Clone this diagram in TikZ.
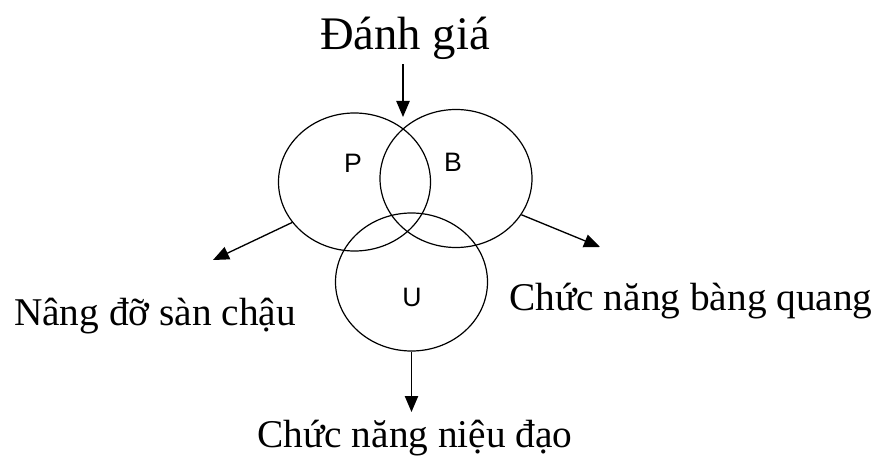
\documentclass[tikz,border=0pt]{standalone}
\usepackage{fontspec}
\setmainfont{Liberation Serif}
\newfontfamily\lettersans{Liberation Sans}
\usetikzlibrary{arrows.meta,shapes.geometric}

\begin{document}
\begin{tikzpicture}[x=0.75pt, y=-0.75pt,
  ring/.style={draw, ellipse, line width=0.9pt, minimum width=114pt, minimum height=103.5pt, inner sep=0pt},
  arr/.style={line width=1pt, -{Triangle[length=12pt, width=10pt]}},
  lbl/.style={font=\fontsize{29.5}{31}\selectfont, inner sep=0pt},
  letter/.style={font=\lettersans\fontsize{20}{22}\selectfont, inner sep=0pt}]
  \useasboundingbox (0,0) rectangle (874,456);
  % the three rings
  \node[ring] (pc) at (354.5,182) {};
  \node[ring] (bc) at (456,178.5) {};
  \node[ring] (uc) at (411.5,282) {};
  \node[letter] (p) at (353,163) {P};
  \node[letter] (b) at (453,162) {B};
  \node[letter] (u) at (412,297) {U};
  % texts
  \node[lbl, anchor=base, font=\fontsize{35}{37}\selectfont] (title) at (405,50) {Đánh giá};
  \node[lbl, anchor=base] (pelvic) at (155,325) {Nâng đỡ sàn chậu};
  \node[lbl, anchor=base] (bladder) at (691,310) {Chức năng bàng quang};
  \node[lbl, anchor=base] (urethra) at (415,447) {Chức năng niệu đạo};
  % arrows
  \coordinate (tip) at (403,117);
  \coordinate (lend) at (213,260);
  \coordinate (rend) at (600,247);
  \coordinate (bend) at (411.5,412);
  \draw[arr, shorten <=3pt] (title.south -| tip) -- (tip);
  \draw[arr] (pc.213) -- (lend);
  \draw[arr] (bc.331) -- (rend);
  \draw[arr] (uc.south) -- (bend);
\end{tikzpicture}
\end{document}
